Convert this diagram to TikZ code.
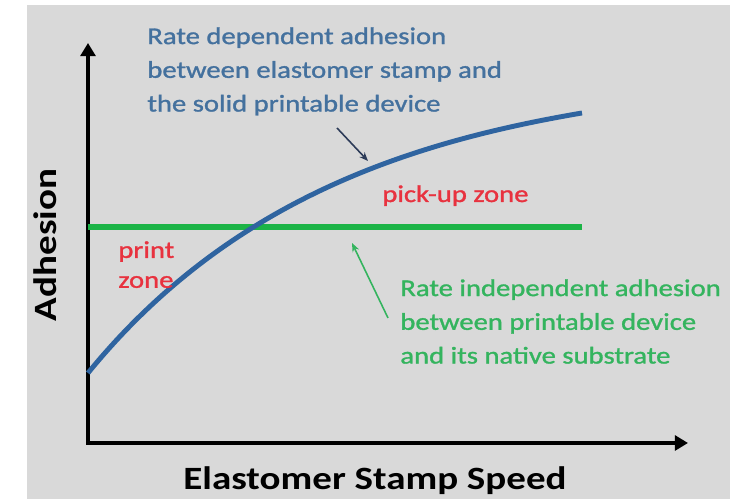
\documentclass[tikz,border=0pt]{standalone}
\usepackage{fontspec}
\setmainfont{Carlito}[FakeStretch=1.2]
\newfontfamily\notefont{Carlito}[FakeStretch=1.19,FakeBold=1.2]
\usepackage{tikz}
\usetikzlibrary{arrows.meta,positioning}
\definecolor{panelgray}{HTML}{D9D9D9}
\definecolor{ratebluetext}{HTML}{44719E}
\definecolor{rateblue}{HTML}{2F64A0}
\definecolor{arrownavy}{HTML}{2C3B58}
\definecolor{flatgreen}{HTML}{1CB447}
\definecolor{flatgreentext}{HTML}{34B45E}
\definecolor{zonered}{HTML}{E8323F}

\begin{document}
\begin{tikzpicture}[x=0.2mm,y=0.2mm,
  axisline/.style={line width=2pt,line join=miter,
    {Triangle[length=7.5pt,width=8.5pt]}-{Triangle[length=7.5pt,width=8.5pt]}},
  ratecurve/.style={rateblue,line width=2.8pt},
  flatline/.style={flatgreen,line width=3.4pt},
  pointer/.style={line width=0.9pt,-{Stealth[length=5pt,width=4pt]}},
  note/.style={inner sep=0pt,align=left,font=\notefont\fontsize{13.7}{19.2}\selectfont},
  zonelabel/.style={inner sep=0pt,align=left,text=zonered,font=\notefont\fontsize{13.7}{17}\selectfont},
  axistitle/.style={inner sep=0pt,font=\fontsize{18.5}{22}\selectfont\bfseries},
]
  \useasboundingbox (0,0) rectangle (740,499);
  \fill[panelgray] (27,0) rectangle (730,494);

  % axes
  \coordinate (origin) at (88,56);
  \coordinate (ytop) at (88,456);
  \coordinate (xend) at (688,56);
  \draw[axisline] (ytop) -- (origin) -- (xend);
  \node[axistitle,rotate=90] (ylabel) at (45,254) {Adhesion};
  \node[axistitle,anchor=base] (xlabel) at (375,9) {Elastomer Stamp Speed};

  % the two adhesion levels
  \draw[flatline] (88,272) -- (582,272);
  \draw[ratecurve] (88,126) .. controls (230,300) and (412,357) .. (582,386);

  % labels
  \node[note,text=ratebluetext,anchor=north west] (ratedep) at (147,472)
    {Rate dependent adhesion\\between elastomer stamp and\\the solid printable device};
  \node[note,text=flatgreentext,anchor=north west] (rateindep) at (400,220)
    {Rate independent adhesion\\between printable device\\and its native substrate};
  \node[zonelabel,anchor=base west] (pickup) at (382,297) {pick-up zone};
  \node[zonelabel,anchor=north west] (print) at (118,258) {print\\zone};

  % pointers
  \coordinate (deptail) at (337,371);
  \coordinate (deptip) at (368,338);
  \coordinate (indeptail) at (388,181);
  \coordinate (indeptip) at (352,256);
  \draw[pointer,arrownavy] (deptail) -- (deptip);
  \draw[pointer,flatgreentext] (indeptail) -- (indeptip);
\end{tikzpicture}
\end{document}
